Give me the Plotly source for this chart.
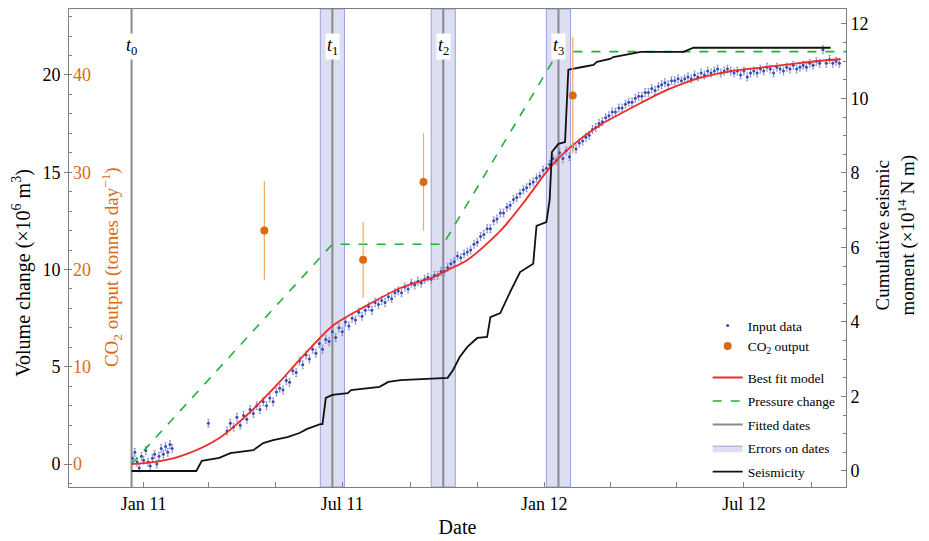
import pandas as pd
import plotly.graph_objects as go

# ---------------------------------------------------------------- data
# All times are given as days after 1 Jan 2011.
START = pd.Timestamp("2011-01-01")

# Geodetic volume change (x10^6 m^3), early sparse epochs
input_day_a = [-10, -8, -6, -4, -2, 0, 2, 4, 6, 8, 10, 12, 14, 16, 18, 20, 22, 24, 26, 59]
input_vol_a = [0.3, 0.6, 0.1, -0.2, 0.4, 0.2, 0.7, 0.1, -0.1, 0.3, 0.5, 0.0, 0.4, 0.8, 0.5, 0.9, 0.6, 1.0, 0.8, 2.1]

# Geodetic volume change (x10^6 m^3), continuous record
input_day_b = [
    76, 79, 82, 85, 88, 91, 94, 97, 100, 103,
    106, 109, 112, 115, 118, 121, 124, 127, 130, 133,
    136, 139, 142, 145, 148, 151, 154, 157, 160, 163,
    166, 169, 172, 175, 178, 181, 184, 187, 190, 193,
    196, 199, 202, 205, 208, 211, 214, 217, 220, 223,
    226, 229, 232, 235, 238, 241, 244, 247, 250, 253,
    256, 259, 262, 265, 268, 271, 274, 277, 280, 283,
    286, 289, 292, 295, 298, 301, 304, 307, 310, 313,
    316, 319, 322, 325, 328, 331, 334, 337, 340, 343,
    346, 349, 352, 355, 358, 361, 364, 367, 370, 373,
    376, 379, 382, 385, 388, 391, 394, 397, 400, 403,
    406, 409, 412, 415, 418, 421, 424, 427, 430, 433,
    436, 439, 442, 445, 448, 451, 454, 457, 460, 463,
    466, 469, 472, 475, 478, 481, 484, 487, 490, 493,
    496, 499, 502, 505, 508, 511, 514, 517, 520, 523,
    526, 529, 532, 535, 538, 541, 544, 547, 550, 553,
    556, 559, 562, 565, 568, 571, 574, 577, 580, 583,
    586, 589, 592, 595, 598, 601, 604, 607, 610, 613,
    616, 619, 622, 625, 628, 631, 634,
]
input_vol_b = [
    1.7, 2.1, 1.9, 2.4, 2.0, 2.5, 2.3, 2.8, 2.6, 3.0,
    2.8, 3.2, 3.0, 3.4, 3.2, 3.7, 3.9, 3.8, 4.3, 4.2,
    4.8, 4.7, 5.3, 5.1, 5.6, 5.4, 5.9, 5.7, 6.2, 5.9,
    6.4, 6.3, 6.8, 6.5, 7.0, 6.8, 7.3, 7.1, 7.5, 7.4,
    7.8, 7.6, 7.9, 8.1, 7.9, 8.3, 8.2, 8.4, 8.3, 8.6,
    8.5, 8.8, 8.9, 8.8, 9.1, 9.0, 9.3, 9.2, 9.4, 9.3,
    9.5, 9.6, 9.5, 9.7, 9.7, 9.9, 9.9, 10.1, 10.3, 10.4,
    10.7, 10.6, 10.8, 10.9, 11.0, 11.3, 11.4, 11.7, 11.8, 12.1,
    12.1, 12.5, 12.6, 12.9, 12.9, 13.2, 13.3, 13.6, 13.7, 13.9,
    14.1, 14.2, 14.4, 14.5, 14.7, 14.8, 15.1, 15.2, 15.4, 15.7,
    15.6, 16.0, 15.7, 16.1, 15.8, 16.3, 16.2, 16.5, 16.6, 16.8,
    16.9, 17.2, 17.3, 17.5, 17.6, 17.8, 17.9, 18.1, 18.1, 18.3,
    18.3, 18.5, 18.6, 18.6, 18.8, 18.9, 18.9, 19.1, 19.1, 19.3,
    19.2, 19.4, 19.5, 19.6, 19.5, 19.7, 19.7, 19.8, 19.7, 19.8,
    19.9, 19.8, 20.0, 19.9, 20.1, 20.0, 20.2, 20.1, 20.2, 20.3,
    20.1, 20.2, 20.3, 20.2, 20.1, 20.2, 20.0, 20.2, 19.9, 20.1,
    20.2, 20.1, 20.3, 20.2, 20.4, 20.3, 20.1, 20.4, 20.3, 20.2,
    20.4, 20.3, 20.5, 20.3, 20.4, 20.5, 20.4, 20.6, 20.5, 20.7,
    20.6, 21.3, 20.6, 20.8, 20.6, 20.7, 20.6,
]
input_err = 0.2

# CO2 flux (tonnes/day) with uncertainties
co2_day = [110, 200, 255, 391]
co2_flux = [24.0, 21.0, 29.0, 37.9]
co2_err = [5.1, 3.9, 5.0, 6.0]

# Best-fit source model (x10^6 m^3)
model_day = [-11, 15, 39, 69, 97, 124, 142, 172, 204, 234, 264, 273, 295,
             325, 346, 370, 389, 416, 446, 477, 507, 537, 568, 599, 635]
model_vol = [0.0, 0.15, 0.51, 1.34, 2.67, 4.22, 5.35, 7.10, 8.17, 9.05, 9.61, 9.87, 10.49,
             11.98, 13.42, 15.22, 16.30, 17.43, 18.35, 19.23, 19.85, 20.21, 20.41, 20.62, 20.82]

# Source pressure history (same scale as volume)
pressure_day = [-11, 172, 273, 378, 640]
pressure_val = [0.0, 11.3, 11.3, 21.2, 21.2]

# Cumulative seismic moment (x10^14 N m)
seis_day = [-11, 48, 53, 69, 79, 100, 109, 118, 131, 142, 149, 161, 163, 166, 172,
            186, 189, 215, 223, 234, 277, 282, 288, 295, 304, 313, 316, 325, 334, 343,
            355, 358, 367, 370, 372, 378, 384, 387, 401, 410, 413, 425, 428, 446, 453,
            492, 501, 626]
seis_m0 = [0.0, 0.0, 0.27, 0.35, 0.48, 0.56, 0.75, 0.83, 0.91, 1.02, 1.13, 1.26, 1.26, 1.96, 2.04,
           2.09, 2.17, 2.26, 2.39, 2.44, 2.50, 2.71, 3.06, 3.33, 3.57, 3.60, 4.13, 4.24, 4.81, 5.34,
           5.56, 6.58, 6.68, 7.28, 8.56, 8.78, 8.83, 10.77, 10.85, 10.90, 10.98, 11.06, 11.11, 11.22, 11.25,
           11.25, 11.36, 11.36]

# Change-point dates and their uncertainties (days)
change_labels = ["0", "1", "2", "3"]
change_day = [-11, 172, 273, 378]
change_err = [0, 11, 11, 11]

# Axis ranges and tick labels
x_range_day = [-68, 640]
vol_range = [-1.18, 23.39]
co2_range = [-2.36, 46.78]
m0_range = [-0.43, 12.40]
x_tick_day = [0, 181, 365, 547]
x_tick_text = ["Jan 11", "Jul 11", "Jan 12", "Jul 12"]
x_minor_day = [59, 120, 243, 304, 425, 486, 609]


def to_date(days):
    return [START + pd.Timedelta(days=d) for d in days]


# ---------------------------------------------------------------- styling
SERIF = "Liberation Serif, Times New Roman, serif"
BLUE = "#3a4aae"
BLUE_ERR = "#8995d6"
ORANGE = "#dc6a12"
ORANGE_ERR = "#f2a869"
RED = "#ee2a24"
GREEN = "#1fb03a"
GREY = "#8a8a8a"
BAND = "#dcdef1"
BAND_EDGE = "#9aa0da"
FRAME = "#7f7f7f"

fig = go.Figure()

# uncertainty bands on the change-point dates
first_band = True
for d, e in zip(change_day, change_err):
    if e == 0:
        continue
    xs = to_date([d - e, d + e, d + e, d - e, d - e])
    ys = [vol_range[0], vol_range[0], vol_range[1], vol_range[1], vol_range[0]]
    fig.add_trace(go.Scatter(
        x=xs, y=ys, mode="lines", fill="toself", fillcolor=BAND,
        line=dict(color=BAND_EDGE, width=1), name="Errors on dates",
        legend="legend2", legendgroup="bands", showlegend=first_band,
        legendrank=6, hoverinfo="skip"))
    first_band = False

# fitted change-point dates
for i, d in enumerate(change_day):
    fig.add_trace(go.Scatter(
        x=to_date([d, d]), y=vol_range, mode="lines",
        line=dict(color=GREY, width=2), name="Fitted dates",
        legend="legend2", legendgroup="dates", showlegend=(i == 0),
        legendrank=5, hoverinfo="skip"))

# geodetic observations
fig.add_trace(go.Scatter(
    x=to_date(input_day_a + input_day_b), y=input_vol_a + input_vol_b,
    mode="markers", name="Input data", legend="legend", legendrank=1,
    marker=dict(size=3, color=BLUE),
    error_y=dict(type="constant", value=input_err, color=BLUE_ERR, thickness=1, width=1)))

# seismicity (right axis)
fig.add_trace(go.Scatter(
    x=to_date(seis_day), y=seis_m0, yaxis="y2", mode="lines",
    line=dict(color="#111111", width=1.8), name="Seismicity",
    legend="legend2", legendrank=7))

# pressure history
fig.add_trace(go.Scatter(
    x=to_date(pressure_day), y=pressure_val, mode="lines",
    line=dict(color=GREEN, width=1.6, dash="dash"), name="Pressure change",
    legend="legend2", legendrank=4))

# best-fit model
fig.add_trace(go.Scatter(
    x=to_date(model_day), y=model_vol, mode="lines",
    line=dict(color=RED, width=1.8, shape="spline", smoothing=0.8), name="Best fit model",
    legend="legend2", legendrank=3))

# CO2 output (CO2 axis)
fig.add_trace(go.Scatter(
    x=to_date(co2_day), y=co2_flux, yaxis="y3", mode="markers",
    marker=dict(size=8, color=ORANGE), name="CO<sub>2</sub> output",
    legend="legend", legendrank=2,
    error_y=dict(type="data", array=co2_err, color=ORANGE_ERR, thickness=1.2, width=0)))

# change-point labels on the date lines
for lab, d in zip(change_labels, change_day):
    fig.add_annotation(
        x=to_date([d])[0], y=0.95, xref="x", yref="paper",
        text=f"<i>t</i><sub>{lab}</sub>", showarrow=False,
        font=dict(family=SERIF, size=18, color="black"),
        bgcolor="white", borderpad=1)

# vertical axis titles
title_common = dict(xref="paper", yref="paper", textangle=-90, showarrow=False,
                    xanchor="center", yanchor="middle")
fig.add_annotation(
    x=-0.0605, y=0.448,
    text="Volume change (\u00d710<sup>6</sup> m<sup>3</sup>)",
    font=dict(family=SERIF, size=20, color="black"), **title_common)
fig.add_annotation(
    x=0.054, y=0.46,
    text="CO<sub>2</sub> output (tonnes day<sup>\u22121</sup>)",
    font=dict(family=SERIF, size=19, color=ORANGE), **title_common)
fig.add_annotation(
    x=1.0637, y=0.527,
    text="Cumulative seismic<br>moment (\u00d710<sup>14</sup> N m)",
    font=dict(family=SERIF, size=19, color="black"), **title_common)

legend_style = dict(font=dict(family=SERIF, size=13.5, color="black"),
                    bgcolor="rgba(0,0,0,0)", borderwidth=0, tracegroupgap=3,
                    traceorder="grouped", xanchor="left", yanchor="top",
                    itemwidth=30)

fig.update_layout(
    width=929, height=541,
    margin=dict(l=69, r=83, t=9, b=54),
    paper_bgcolor="white", plot_bgcolor="white",
    font=dict(family=SERIF, color="black"),
    legend=dict(x=0.822, y=0.370, **legend_style),
    legend2=dict(x=0.822, y=0.261, **legend_style),
    xaxis=dict(
        type="date", range=to_date(x_range_day), automargin=False,
        tickvals=to_date(x_tick_day), ticktext=x_tick_text,
        ticks="inside", ticklen=5, tickcolor=FRAME,
        minor=dict(tickvals=to_date(x_minor_day), ticks="inside", ticklen=5, tickcolor=FRAME),
        tickfont=dict(family=SERIF, size=18),
        showline=True, linecolor=FRAME, linewidth=1, mirror=True,
        showgrid=False, zeroline=False,
        title=dict(text="Date", font=dict(family=SERIF, size=20), standoff=7)),
    yaxis=dict(
        range=vol_range, tickvals=[0, 5, 10, 15, 20], automargin=False,
        ticks="outside", ticklen=4, tickcolor=FRAME,
        minor=dict(dtick=1, ticks="inside", ticklen=3, tickcolor=FRAME),
        tickfont=dict(family=SERIF, size=18),
        showline=True, linecolor=FRAME, linewidth=1,
        showgrid=False, zeroline=False),
    yaxis2=dict(
        overlaying="y", side="right", anchor="x", automargin=False,
        range=m0_range, tickvals=[0, 2, 4, 6, 8, 10, 12],
        ticks="inside", ticklen=5, tickcolor=FRAME,
        minor=dict(dtick=0.5, ticks="inside", ticklen=3, tickcolor=FRAME),
        tickfont=dict(family=SERIF, size=18),
        showline=True, linecolor=FRAME, linewidth=1,
        showgrid=False, zeroline=False),
    yaxis3=dict(
        overlaying="y", side="left", anchor="free", position=0, automargin=False,
        range=co2_range, tickvals=[0, 10, 20, 30, 40],
        ticks="", ticklabelposition="inside",
        tickfont=dict(family=SERIF, size=18, color=ORANGE),
        showline=False, showgrid=False, zeroline=False),
)

fig.write_html("out.html")
